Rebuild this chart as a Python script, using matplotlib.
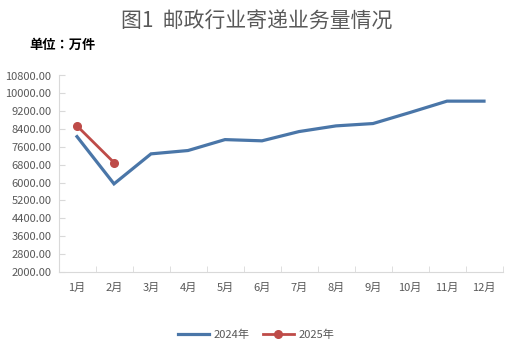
import matplotlib
matplotlib.use("Agg")
import matplotlib.pyplot as plt
from matplotlib.ticker import FixedLocator

plt.rcParams['font.family'] = ['Noto Sans CJK SC', 'DejaVu Sans']

months = ["1月", "2月", "3月", "4月", "5月", "6月", "7月", "8月", "9月", "10月", "11月", "12月"]
v2024 = [8060, 5940, 7285, 7435, 7925, 7870, 8285, 8540, 8645, 9140, 9650, 9650]
v2025 = [8540, 6895]
yticks = [2000, 2800, 3600, 4400, 5200, 6000, 6800, 7600, 8400, 9200, 10000, 10800]

fig = plt.figure(figsize=(5.13, 3.57), dpi=100)
ax = fig.add_axes([58.5/513, 1 - 271.7/357, 444/513, (271.7 - 75.5)/357])

x = list(range(len(months)))
ax.plot(x, v2024, color='#4A76A8', lw=2.3, label='2024年', solid_joinstyle='miter')
ax.plot(x[:len(v2025)], v2025, color='#BE4B48', lw=2.0, marker='o', markersize=5.5, label='2025年')

ax.set_xlim(-0.5, 11.5)
ax.set_ylim(2000, 10800)
ax.set_yticks(yticks)
ax.set_yticklabels([f"{v:.2f}" for v in yticks])
ax.set_xticks(x)
ax.set_xticklabels(months)
ax.xaxis.set_minor_locator(FixedLocator([i + 0.5 for i in range(-1, 12)]))

for s in ['top', 'right']:
    ax.spines[s].set_visible(False)
for s in ['left', 'bottom']:
    ax.spines[s].set_color('#D9D9D9')
    ax.spines[s].set_linewidth(0.8)

ax.tick_params(axis='y', direction='in', length=4, color='#D9D9D9', labelsize=8, labelcolor='#595959', pad=5)
ax.tick_params(axis='x', which='major', length=0, labelsize=8, labelcolor='#595959', pad=8)
ax.tick_params(axis='x', which='minor', direction='in', length=4, color='#D9D9D9')

fig.text(0.5, 1 - 22/357, "图1  邮政行业寄递业务量情况", ha='center', va='center', fontsize=15, color='#595959')
fig.text(29/513, 1 - 45/357, "单位：万件", ha='left', va='center', fontsize=9.5, color='#000000',
         fontweight='bold', family=['Noto Sans CJK JP', 'DejaVu Sans'])

leg = fig.legend(loc='center', bbox_to_anchor=(256/513, 1 - 335/357), ncol=2, frameon=False,
                 fontsize=8, handlelength=2.8, columnspacing=1.2, handletextpad=0.4)
for t in leg.get_texts():
    t.set_color('#595959')

fig.savefig("out.png", dpi=100)
